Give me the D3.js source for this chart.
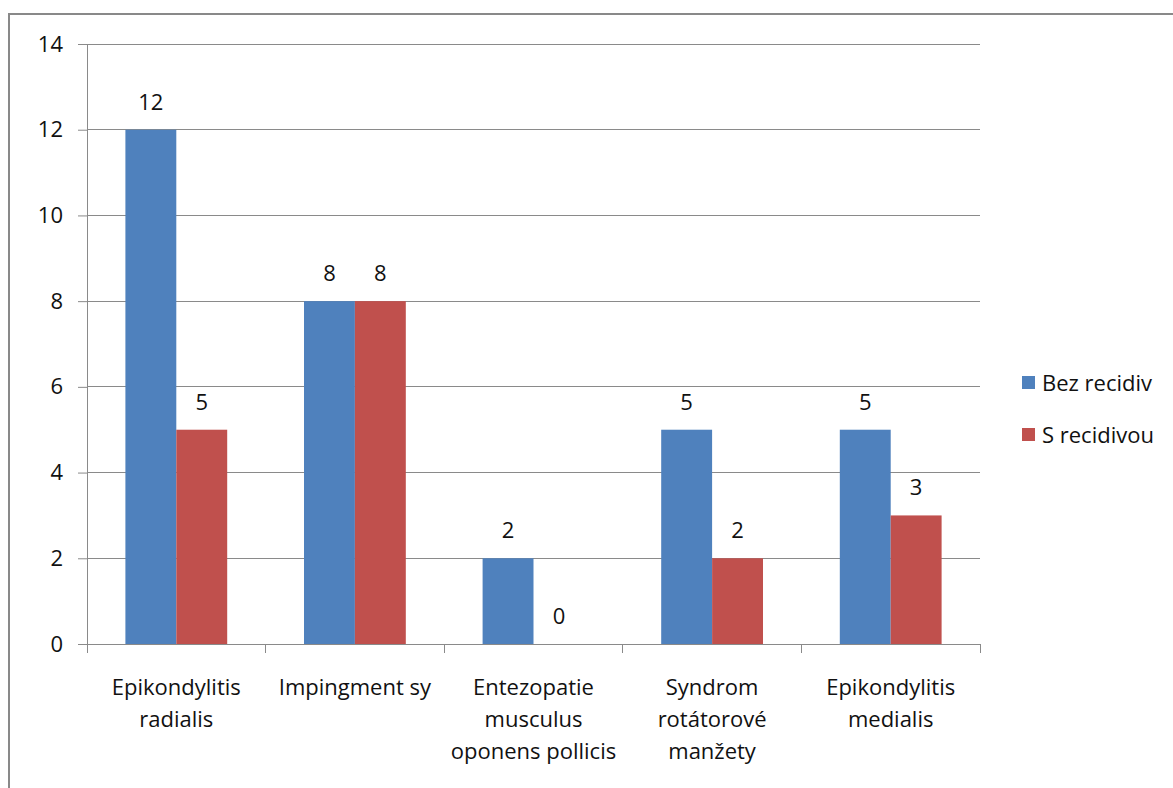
<!DOCTYPE html>
<html>
<head>
<meta charset="utf-8">
<script src="https://cdn.jsdelivr.net/npm/d3@7"></script>
<style>
  body { margin: 0; background: #fff; }
  svg { display: block; }
</style>
</head>
<body>
<script>
const categories = [
  ["Epikondylitis", "radialis"],
  ["Impingment sy"],
  ["Entezopatie", "musculus", "oponens pollicis"],
  ["Syndrom", "rotátorové", "manžety"],
  ["Epikondylitis", "medialis"]
];
const seriesNames = ["Bez recidiv", "S recidivou"];
const bezRecidiv = [12, 8, 2, 5, 5];
const sRecidivou = [5, 8, 0, 2, 3];
const yTicks = [0, 2, 4, 6, 8, 10, 12, 14];
const colors = ["#4f81bd", "#c0504d"];

const W = 1173, H = 788;
const plotLeft = 87, plotRight = 980, plotTop = 44, plotBottom = 644;
const font = "'Open Sans', sans-serif";
const fontSize = 22;

const svg = d3.select("body").append("svg").attr("width", W).attr("height", H);

// outer chart frame (only top and left visible)
svg.append("path")
  .attr("d", `M9,${H} V14 H${W}`)
  .attr("fill", "none")
  .attr("stroke", "#898989")
  .attr("stroke-width", 2);

const x = d3.scaleBand()
  .domain(d3.range(categories.length))
  .range([plotLeft, plotRight])
  .paddingInner(0.43)
  .paddingOuter(0.215);
const x1 = d3.scaleBand().domain([0, 1]).range([0, x.bandwidth()]);
const y = d3.scaleLinear().domain([0, 14]).range([plotBottom, plotTop]);

// gridlines
svg.append("g")
  .selectAll("line")
  .data(yTicks.filter(d => d > 0))
  .join("line")
  .attr("x1", plotLeft).attr("x2", plotRight)
  .attr("y1", d => y(d)).attr("y2", d => y(d))
  .attr("stroke", "#8a8a8a").attr("stroke-width", 1)
  .attr("shape-rendering", "crispEdges");

// y axis
const yAxis = svg.append("g")
  .attr("transform", `translate(${plotLeft},0)`)
  .call(d3.axisLeft(y).tickValues(yTicks).tickSize(9).tickPadding(15));
yAxis.select(".domain").attr("stroke", "#8a8a8a");
yAxis.selectAll(".tick line").attr("stroke", "#8a8a8a");
yAxis.selectAll("text")
  .attr("font-family", font).attr("font-size", fontSize).attr("fill", "#111");

// bars
const data = categories.map((c, i) => [bezRecidiv[i], sRecidivou[i]]);
const groups = svg.append("g")
  .selectAll("g")
  .data(data)
  .join("g")
  .attr("transform", (d, i) => `translate(${x(i)},0)`);

groups.selectAll("rect")
  .data(d => d)
  .join("rect")
  .attr("x", (d, j) => x1(j))
  .attr("width", x1.bandwidth())
  .attr("y", d => y(d))
  .attr("height", d => plotBottom - y(d))
  .attr("fill", (d, j) => colors[j]);

groups.selectAll("text")
  .data(d => d)
  .join("text")
  .attr("x", (d, j) => x1(j) + x1.bandwidth() / 2)
  .attr("y", d => y(d) - 20)
  .attr("text-anchor", "middle")
  .attr("font-family", font).attr("font-size", fontSize).attr("fill", "#111")
  .text(d => d);

// x axis
svg.append("line")
  .attr("x1", plotLeft).attr("x2", plotRight)
  .attr("y1", plotBottom).attr("y2", plotBottom)
  .attr("stroke", "#8a8a8a")
  .attr("shape-rendering", "crispEdges");

const step = x.step();
svg.append("g")
  .selectAll("line")
  .data(d3.range(categories.length + 1))
  .join("line")
  .attr("x1", i => plotLeft + i * step).attr("x2", i => plotLeft + i * step)
  .attr("y1", plotBottom).attr("y2", plotBottom + 9)
  .attr("stroke", "#8a8a8a")
  .attr("shape-rendering", "crispEdges");

const labels = svg.append("g")
  .selectAll("text")
  .data(categories)
  .join("text")
  .attr("x", (d, i) => x(i) + x.bandwidth() / 2)
  .attr("y", 695)
  .attr("text-anchor", "middle")
  .attr("font-family", font).attr("font-size", fontSize).attr("fill", "#111");
labels.selectAll("tspan")
  .data(d => d)
  .join("tspan")
  .attr("x", function () { return this.parentNode.getAttribute("x"); })
  .attr("dy", (d, k) => (k === 0 ? 0 : 32))
  .text(d => d);

// legend
const legend = svg.append("g")
  .selectAll("g")
  .data(seriesNames)
  .join("g")
  .attr("transform", (d, i) => `translate(1022,${383 + i * 52})`);
legend.append("rect")
  .attr("x", 0).attr("y", -7)
  .attr("width", 13).attr("height", 13)
  .attr("fill", (d, i) => colors[i]);
legend.append("text")
  .attr("x", 20).attr("y", 0)
  .attr("dy", "0.35em")
  .attr("font-family", font).attr("font-size", fontSize).attr("fill", "#111")
  .text(d => d);
</script>
</body>
</html>
